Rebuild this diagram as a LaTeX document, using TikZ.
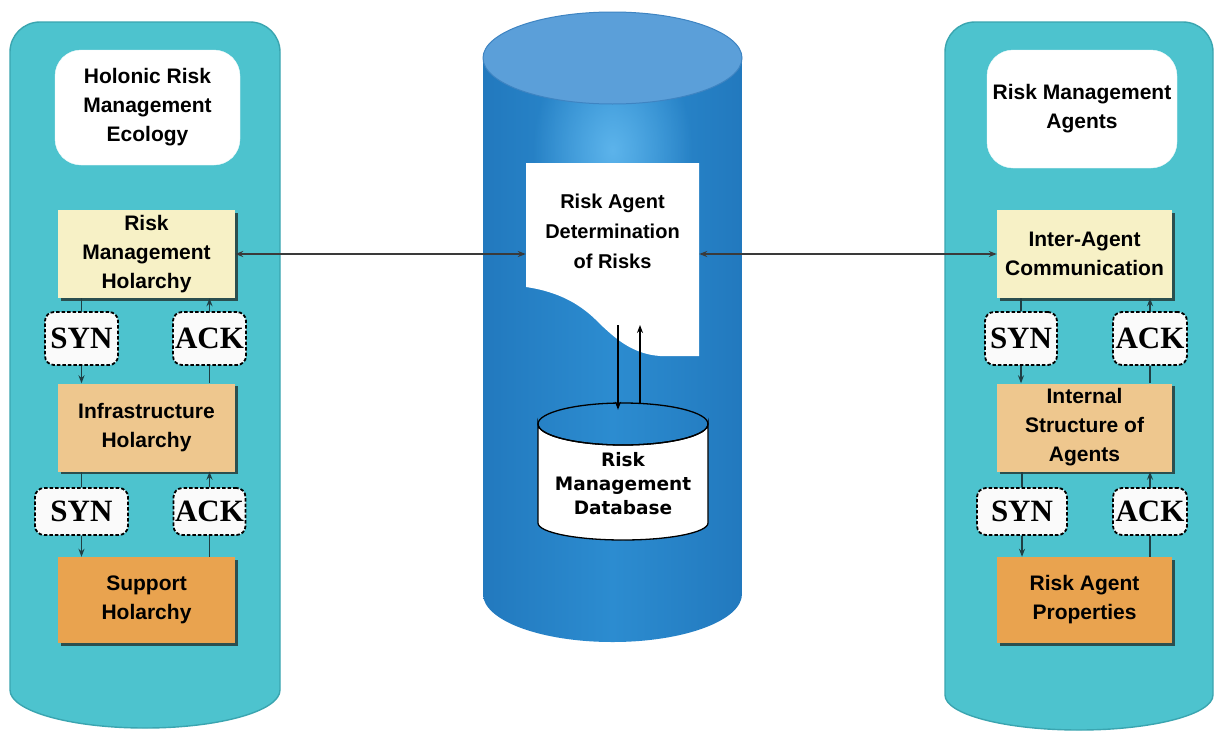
\documentclass[tikz,border=0pt]{standalone}
\usepackage{fontspec}
\setmainfont{Liberation Sans}
\newfontfamily\serifface{Liberation Serif}
\newfontfamily\dejavu{DejaVu Sans}
\usetikzlibrary{arrows.meta,fadings}

\definecolor{panelc}{HTML}{4DC3CE}
\definecolor{paneledge}{HTML}{3AA5B0}
\definecolor{holonA}{HTML}{F7F1C6}
\definecolor{holonB}{HTML}{EEC78E}
\definecolor{holonC}{HTML}{E9A34F}
\definecolor{shadowc}{HTML}{2B4F4F}
\definecolor{connc}{HTML}{1F3F44}
\definecolor{linkc}{HTML}{3A3A3A}
\definecolor{hsfill}{HTML}{FAFAFA}
\definecolor{cylbody}{HTML}{2C8CD0}
\definecolor{cyledge}{HTML}{2279BE}
\definecolor{cylhi}{HTML}{62B8EE}
\definecolor{cyltop}{HTML}{5B9FD9}
\definecolor{cyltopedge}{HTML}{3E84C2}

\tikzfading[name=softspot, inner color=transparent!0, outer color=transparent!100]

\newcommand\lblfont{\fontsize{21}{29}\selectfont\bfseries}
\newcommand\docfont{\fontsize{20}{30}\selectfont\bfseries}
\newcommand\hsfont{\serifface\fontsize{31}{31}\selectfont\bfseries}
\newcommand\dbtext{\dejavu\fontsize{18.5}{24}\selectfont\bfseries}

\tikzset{
  panel/.style={fill=panelc, draw=paneledge, line width=1.4pt},
  header/.style={fill=white, draw=white!90!panelc, rounded corners=26pt,
    inner sep=0pt, align=center, font=\lblfont},
  holon/.style={minimum width=177pt, minimum height=88pt, inner sep=0pt,
    align=center, font=\lblfont,
    preaction={fill=shadowc, transform canvas={xshift=2.5pt, yshift=-2.5pt}}},
  handshake/.style={draw=black, fill=hsfill, dash pattern=on 3.5pt off 2pt,
    line width=1.8pt, rounded corners=9pt, inner sep=0pt, font=\hsfont},
  conn/.style={draw=connc, line width=1.3pt},
  link/.style={draw=linkc, line width=1.4pt},
  tip/.style={-{Stealth[length=8pt,width=6pt]}},
  twotips/.style={{Stealth[length=8pt,width=6pt]}-{Stealth[length=8pt,width=6pt]}},
}

\begin{document}
\begin{tikzpicture}[x=1pt, y=-1pt]
\useasboundingbox[fill=white] (0,0) rectangle (1220,736);

% ---------- side panels ----------
\path[panel] (10,690) -- (10,52) arc[start angle=180, end angle=270, radius=30]
  -- (250,22) arc[start angle=270, end angle=360, radius=30]
  -- (280,690) arc[start angle=0, end angle=180, x radius=135, y radius=38] -- cycle;
\path[panel] (945,695) -- (945,52) arc[start angle=180, end angle=270, radius=30]
  -- (1183,22) arc[start angle=270, end angle=360, radius=30]
  -- (1213,695) arc[start angle=0, end angle=180, x radius=134, y radius=35] -- cycle;

% ---------- central cylinder ----------
\begin{scope}
  \path[clip] (483,58) -- (483,594) arc[start angle=180, end angle=0, x radius=129.5, y radius=48]
    -- (742,58) -- cycle;
  \shade[left color=cyledge, right color=cyledge, middle color=cylbody]
    (483,0) rectangle (742,650);
  \fill[cylhi, path fading=softspot, fill opacity=0.9]
    (612.5,150) ellipse[x radius=80, y radius=110];
\end{scope}
\fill[cyltop, draw=cyltopedge, line width=1pt] (612.5,58) ellipse[x radius=129.5, y radius=46];

% ---------- left column ----------
\node[header, minimum width=185pt, minimum height=115pt] (lhdr) at (147.5,107.5)
  {Holonic Risk\\Management\\Ecology};
\node[holon, fill=holonA] (rmh) at (146.5,254) {Risk\\Management\\Holarchy};
\node[holon, fill=holonB] (infra) at (146.5,427.5) {Infrastructure\\Holarchy};
\node[holon, fill=holonC, minimum height=86pt] (supp) at (146.5,600) {Support\\Holarchy};
\node[handshake, minimum width=73pt, minimum height=53pt] (syn1) at (81.5,338.5) {SYN};
\node[handshake, minimum width=73pt, minimum height=53pt] (ack1) at (209.5,338.5) {ACK};
\node[handshake, minimum width=93pt, minimum height=47pt] (syn2) at (81.5,511.5) {SYN};
\node[handshake, minimum width=72pt, minimum height=47pt] (ack2) at (209.5,511.5) {ACK};

\draw[conn] (syn1.north) -- (syn1.north |- rmh.south);
\draw[conn, tip] (syn1.south) -- (syn1.south |- infra.north);
\draw[conn] (ack1.south |- infra.north) -- (ack1.south);
\draw[conn, tip] (ack1.north) -- (ack1.north |- rmh.south);
\draw[conn] (syn2.north) -- (syn2.north |- infra.south);
\draw[conn, tip] (syn2.south) -- (syn2.south |- supp.north);
\draw[conn] (ack2.south |- supp.north) -- (ack2.south);
\draw[conn, tip] (ack2.north) -- (ack2.north |- infra.south);

% ---------- right column ----------
\node[header, minimum width=190pt, minimum height=118pt] (rhdr) at (1082,109)
  {Risk Management\\Agents};
\node[holon, fill=holonA, minimum width=175pt] (iac) at (1084.5,254) {Inter-Agent\\Communication};
\node[holon, fill=holonB, minimum width=175pt] (isa) at (1084.5,427.5) {Internal\\Structure of\\Agents};
\node[holon, fill=holonC, minimum width=175pt, minimum height=86pt] (rap) at (1084.5,600) {Risk Agent\\Properties};
\node[handshake, minimum width=72pt, minimum height=53pt] (rsyn1) at (1021,338.5) {SYN};
\node[handshake, minimum width=74pt, minimum height=53pt] (rack1) at (1150,338.5) {ACK};
\node[handshake, minimum width=90pt, minimum height=47pt] (rsyn2) at (1022,511.5) {SYN};
\node[handshake, minimum width=74pt, minimum height=47pt] (rack2) at (1150,511.5) {ACK};

\draw[conn] (rsyn1.north) -- (rsyn1.north |- iac.south);
\draw[conn, tip] (rsyn1.south) -- (rsyn1.south |- isa.north);
\draw[conn] (rack1.south |- isa.north) -- (rack1.south);
\draw[conn, tip] (rack1.north) -- (rack1.north |- iac.south);
\draw[conn] (rsyn2.north) -- (rsyn2.north |- isa.south);
\draw[conn, tip] (rsyn2.south) -- (rsyn2.south |- rap.north);
\draw[conn] (rack2.south |- rap.north) -- (rack2.south);
\draw[conn, tip] (rack2.north) -- (rack2.north |- isa.south);

% ---------- document inside the cylinder ----------
\node[minimum width=173pt, minimum height=193pt, inner sep=0pt] (doc) at (612.5,259.5) {};
\fill[white] (526,163) -- (699,163) -- (699,356) -- (660,356)
  .. controls (632,354) and (615,338) .. (600,324)
  .. controls (582,305) and (560,292) .. (526,287) -- cycle;
\node[align=center, font=\docfont, inner sep=0pt] (doctext) at (612.5,231)
  {Risk Agent\\Determination\\of Risks};

% ---------- database ----------
\node[minimum width=170pt, minimum height=137pt, inner sep=0pt] (db) at (623,471.5) {};
\filldraw[fill=white, draw=black, line width=1.3pt]
  (538,424) -- (538,523) arc[start angle=180, end angle=0, x radius=85, y radius=17]
  -- (708,424) arc[start angle=0, end angle=180, x radius=85, y radius=21] -- cycle;
\draw[black, line width=1.3pt] (623,424) ellipse[x radius=85, y radius=21];
\node[align=center, font=\dbtext, inner sep=0pt] (dblabel) at (623,484)
  {Risk\\Management\\Database};

\coordinate (docdn) at (618,325);
\coordinate (docup) at (640,325);
\draw[link, draw=black, tip] (docdn) -- ([yshift=-7pt]docdn |- db.north);
\draw[link, draw=black, tip] (docup |- db.north) -- (docup);

% ---------- links between the columns ----------
\draw[link, twotips] (rmh.east) -- (rmh.east -| doc.west);
\draw[link, twotips] (iac.west -| doc.east) -- (iac.west);
\end{tikzpicture}
\end{document}
